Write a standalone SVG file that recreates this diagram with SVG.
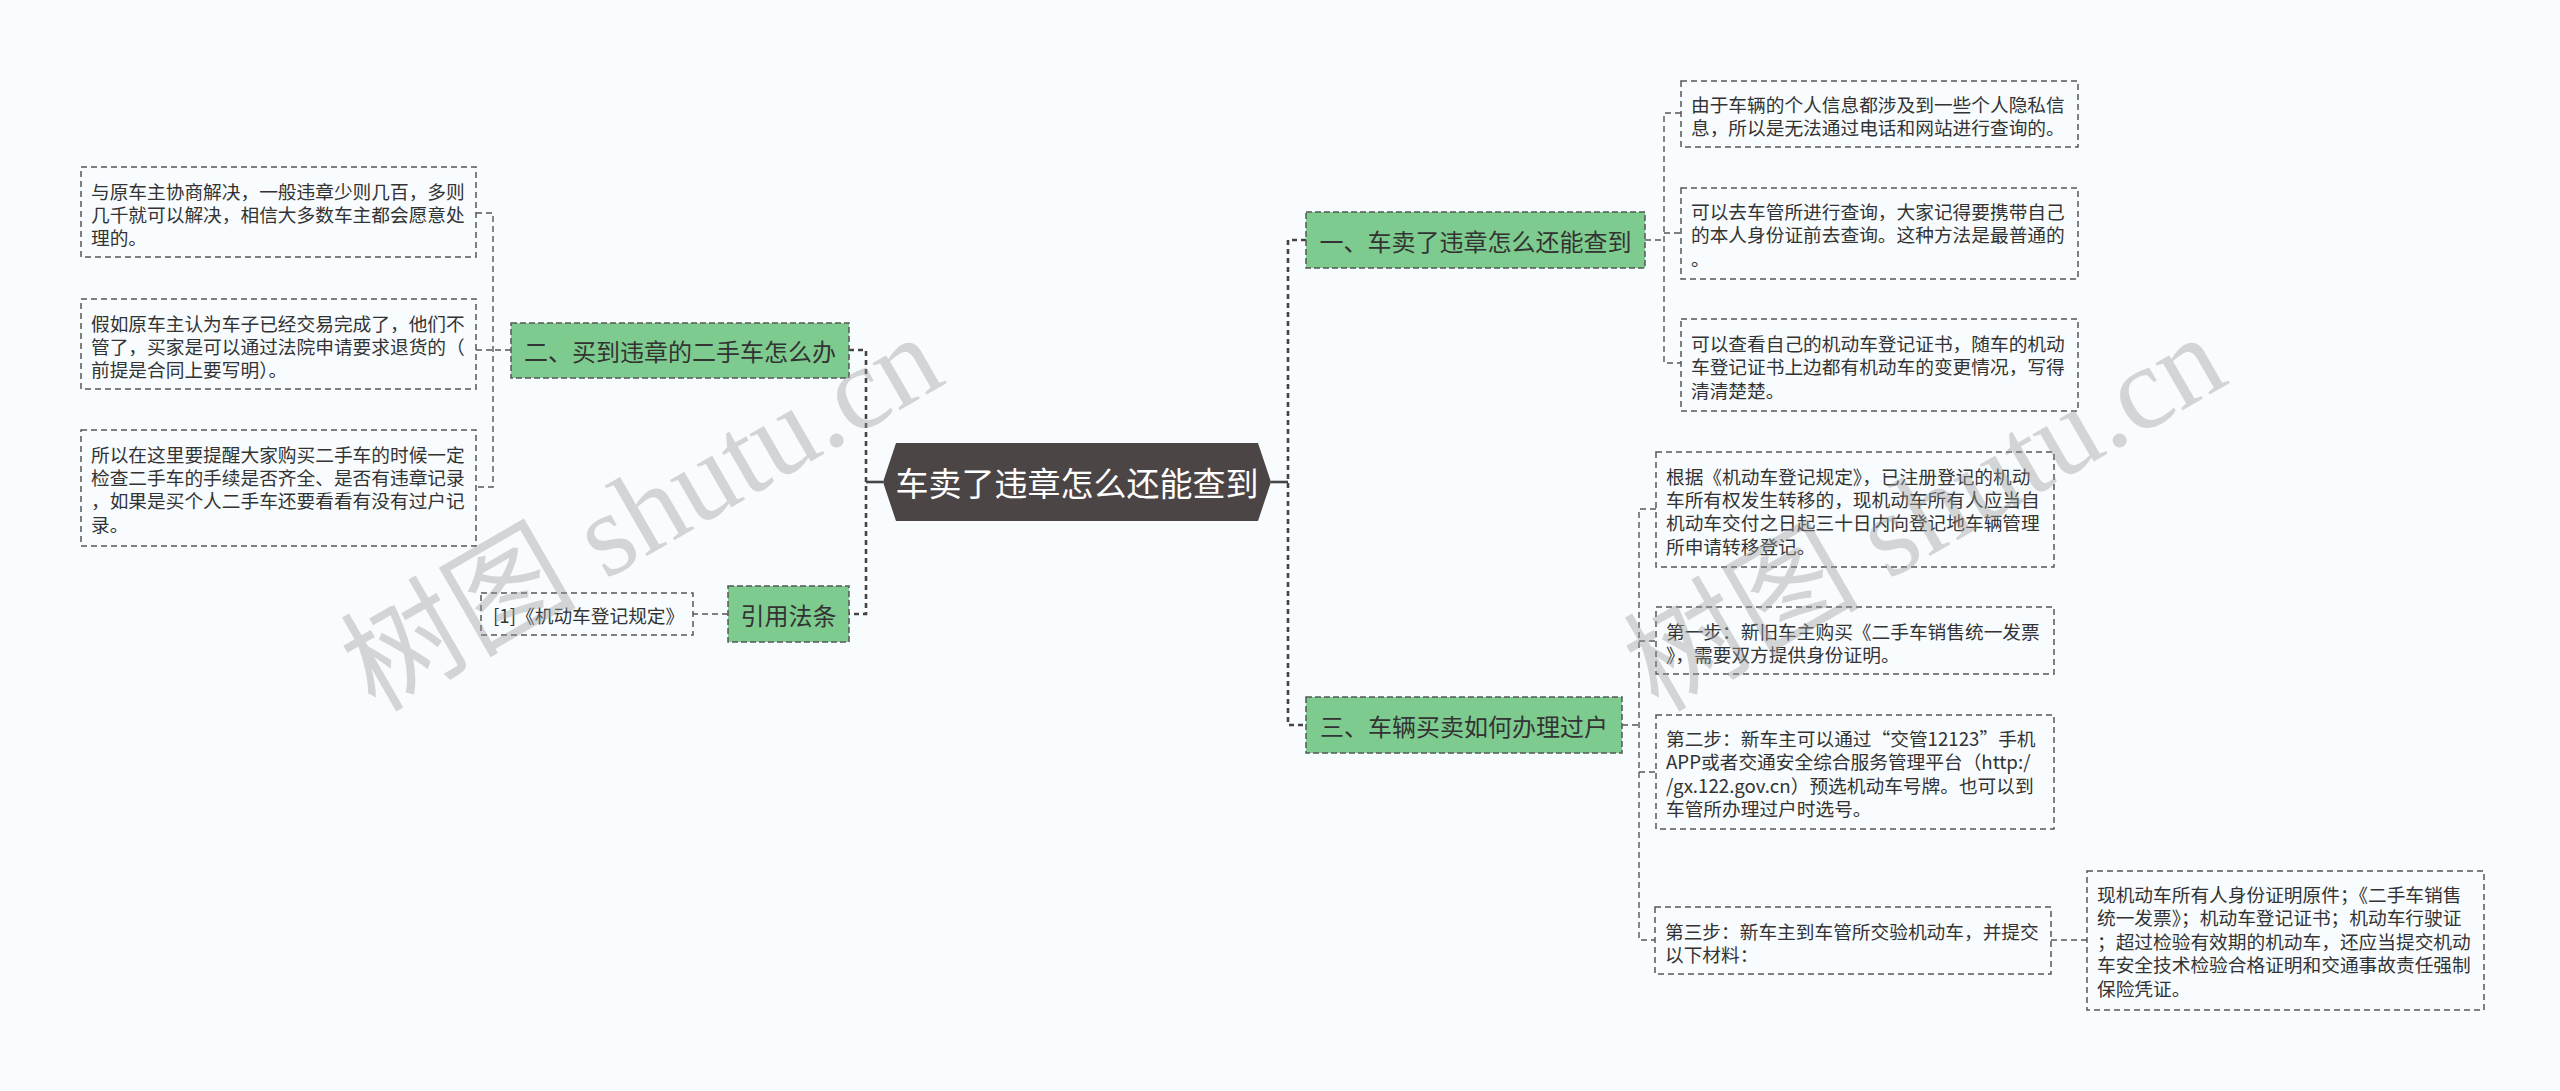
<svg xmlns="http://www.w3.org/2000/svg" width="2560" height="1091" viewBox="0 0 2560 1091">
<style>
.bg{fill:#f8fcfe}
.box{fill:#f8fcfe;stroke:#555;stroke-width:1.5;stroke-dasharray:6 4}
.sub{fill:#7ecb8f;stroke:#555;stroke-width:1.5;stroke-dasharray:6 3}
.t{font-family:"Noto Sans CJK SC","Noto Sans",sans-serif;font-size:18.7px;fill:#333;dominant-baseline:central}
.st{font-family:"Noto Sans CJK SC","Noto Sans",sans-serif;font-size:24px;fill:#333;dominant-baseline:central;text-anchor:middle}
.ct{font-family:"Noto Sans CJK SC","Noto Sans",sans-serif;font-size:33px;fill:#fff;dominant-baseline:central;text-anchor:middle}
.trunk{fill:none;stroke:#444;stroke-width:2.6;stroke-dasharray:5 4}
.thin{fill:none;stroke:#555;stroke-width:1.4;stroke-dasharray:6 4}
.solid{fill:none;stroke:#444;stroke-width:2.6}
.wm{font-family:"Liberation Serif","Noto Sans CJK SC",serif;font-size:118px;fill:#9a9a9a;opacity:.4}
</style>
<rect class="bg" x="0" y="0" width="2560" height="1091"/>
<g id="connectors">
<path class="solid" d="M883 482H866"/>
<path class="trunk" d="M849 350H866V614H849"/>
<path class="solid" d="M1271 482H1288"/>
<path class="trunk" d="M1306 240H1288V725H1306"/>
<path class="thin" d="M511 350H493M476 213H493V487H476M476 350H493"/>
<path class="thin" d="M728 614H693"/>
<path class="thin" d="M1645 240H1664M1681 113H1664V363H1681M1664 233H1681"/>
<path class="thin" d="M1622 725H1639M1656 509H1639V940H1655M1639 641H1656M1639 772H1656"/>
<path class="thin" d="M2051 940H2087"/>
</g>
<g id="root">
<polygon points="883,482 896,443 1258,443 1271,482 1258,521 896,521" fill="#4b4546"/>
<text class="ct" x="1077" y="482">车卖了违章怎么还能查到</text>
</g>
<g id="n1">
<rect class="sub" x="1306" y="212" width="339" height="56"/>
<text class="st" x="1475.5" y="240">一、车卖了违章怎么还能查到</text>
</g>
<g id="n1a">
<rect class="box" x="1681" y="81" width="397" height="66"/>
<text class="t" x="1691" y="103">由于车辆的个人信息都涉及到一些个人隐私信</text>
<text class="t" x="1691" y="126.5">息，所以是无法通过电话和网站进行查询的。</text>
</g>
<g id="n1b">
<rect class="box" x="1681" y="188" width="397" height="91"/>
<text class="t" x="1691" y="210">可以去车管所进行查询，大家记得要携带自己</text>
<text class="t" x="1691" y="233.5">的本人身份证前去查询。这种方法是最普通的</text>
<text class="t" x="1691" y="257">。</text>
</g>
<g id="n1c">
<rect class="box" x="1681" y="319" width="397" height="92"/>
<text class="t" x="1691" y="342">可以查看自己的机动车登记证书，随车的机动</text>
<text class="t" x="1691" y="365.5">车登记证书上边都有机动车的变更情况，写得</text>
<text class="t" x="1691" y="389">清清楚楚。</text>
</g>
<g id="n3">
<rect class="sub" x="1306" y="697" width="316" height="56"/>
<text class="st" x="1464" y="725">三、车辆买卖如何办理过户</text>
</g>
<g id="n3a">
<rect class="box" x="1656" y="452" width="398" height="115"/>
<text class="t" x="1666" y="475">根据《机动车登记规定》，已注册登记的机动</text>
<text class="t" x="1666" y="498.4">车所有权发生转移的，现机动车所有人应当自</text>
<text class="t" x="1666" y="521.8">机动车交付之日起三十日内向登记地车辆管理</text>
<text class="t" x="1666" y="545.2">所申请转移登记。</text>
</g>
<g id="n3b">
<rect class="box" x="1656" y="607" width="398" height="67"/>
<text class="t" x="1666" y="630">第一步：新旧车主购买《二手车销售统一发票</text>
<text class="t" x="1666" y="653.4">》，需要双方提供身份证明。</text>
</g>
<g id="n3c">
<rect class="box" x="1656" y="715" width="398" height="114"/>
<text class="t" x="1666" y="737.5">第二步：新车主可以通过“交管12123”手机</text>
<text class="t" x="1666" y="760.9">APP或者交通安全综合服务管理平台（http:/</text>
<text class="t" x="1666" y="784.3">/gx.122.gov.cn）预选机动车号牌。也可以到</text>
<text class="t" x="1666" y="807.7">车管所办理过户时选号。</text>
</g>
<g id="n3d">
<rect class="box" x="1655" y="907" width="396" height="67"/>
<text class="t" x="1665" y="930">第三步：新车主到车管所交验机动车，并提交</text>
<text class="t" x="1665" y="953.4">以下材料：</text>
</g>
<g id="n3d1">
<rect class="box" x="2087" y="871" width="397" height="139"/>
<text class="t" x="2097" y="893.5">现机动车所有人身份证明原件；《二手车销售</text>
<text class="t" x="2097" y="916.9">统一发票》；机动车登记证书；机动车行驶证</text>
<text class="t" x="2097" y="940.3">；超过检验有效期的机动车，还应当提交机动</text>
<text class="t" x="2097" y="963.7">车安全技术检验合格证明和交通事故责任强制</text>
<text class="t" x="2097" y="987.1">保险凭证。</text>
</g>
<g id="n2">
<rect class="sub" x="511" y="323" width="338" height="55"/>
<text class="st" x="680" y="350">二、买到违章的二手车怎么办</text>
</g>
<g id="n2a">
<rect class="box" x="81" y="167" width="395" height="90"/>
<text class="t" x="91" y="190">与原车主协商解决，一般违章少则几百，多则</text>
<text class="t" x="91" y="213.4">几千就可以解决，相信大多数车主都会愿意处</text>
<text class="t" x="91" y="236.8">理的。</text>
</g>
<g id="n2b">
<rect class="box" x="81" y="299" width="395" height="90"/>
<text class="t" x="91" y="322">假如原车主认为车子已经交易完成了，他们不</text>
<text class="t" x="91" y="345.4">管了，买家是可以通过法院申请要求退货的（</text>
<text class="t" x="91" y="368.8">前提是合同上要写明）。</text>
</g>
<g id="n2c">
<rect class="box" x="81" y="430" width="395" height="116"/>
<text class="t" x="91" y="453">所以在这里要提醒大家购买二手车的时候一定</text>
<text class="t" x="91" y="476.4">检查二手车的手续是否齐全、是否有违章记录</text>
<text class="t" x="91" y="499.8">，如果是买个人二手车还要看看有没有过户记</text>
<text class="t" x="91" y="523.2">录。</text>
</g>
<g id="n4">
<rect class="sub" x="728" y="586" width="121" height="56"/>
<text class="st" x="788.5" y="614">引用法条</text>
</g>
<g id="n4a">
<rect class="box" x="481" y="593" width="212" height="42"/>
<text class="t" x="493" y="614">[1]《机动车登记规定》</text>
</g>
<g id="watermarks">
<text class="wm" transform="translate(375,713) rotate(-30)">树图 shutu.cn</text>
<text class="wm" transform="translate(1658,713) rotate(-30)">树图 shutu.cn</text>
</g>
</svg>
